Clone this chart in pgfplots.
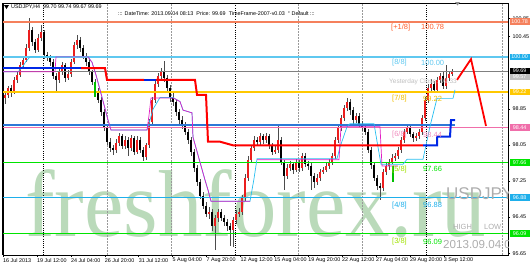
\documentclass[border=0pt]{standalone}
\usepackage{pgfplots}
\pgfplotsset{compat=1.18}
\usepackage{pgfplotstable}
\usepackage{fontspec}
\setmainfont{Liberation Sans}
\newfontfamily\wmfont{Liberation Serif}
\definecolor{mmorange}{RGB}{245,128,92}
\definecolor{mmorangetxt}{RGB}{255,95,45}
\definecolor{mmlblue}{RGB}{95,200,240}
\definecolor{mmyellow}{RGB}{255,200,0}
\definecolor{mmyellowtxt}{RGB}{240,190,0}
\definecolor{mmpink}{RGB}{240,110,170}
\definecolor{mmpinktxt}{RGB}{240,140,190}
\definecolor{mmgreen}{RGB}{0,228,0}
\definecolor{mmygreen}{RGB}{160,225,0}
\definecolor{mmblue}{RGB}{30,175,235}
\definecolor{trblue}{RGB}{45,120,215}
\definecolor{stepblue}{RGB}{0,40,230}
\definecolor{wm}{RGB}{186,218,186}
\definecolor{cyanl}{RGB}{40,190,240}
\definecolor{magl}{RGB}{225,30,195}
\definecolor{bullred}{RGB}{235,30,30}
\newcommand{\mtfont}{\fontsize{5.4}{6}\selectfont}
\newcommand{\mmfont}{\fontsize{7.5}{8}\selectfont}

\pgfplotstableread{
x o h l c
5 99.10 99.25 98.95 99.16
8 99.16 99.36 99.08 99.31
11 99.31 99.38 99.12 99.22
14 99.22 99.55 99.18 99.49
17 99.49 99.68 99.42 99.60
20 99.60 99.88 99.55 99.82
23 99.82 100.00 99.75 99.93
26 99.93 100.28 99.88 100.20
29 100.20 100.86 100.12 100.60
32 100.60 100.66 100.25 100.33
35 100.33 100.40 100.08 100.15
38 100.15 100.50 100.10 100.42
41 100.42 100.70 100.36 100.55
44 100.55 100.60 99.95 100.04
47 100.04 100.10 99.90 99.98
50 99.98 100.05 99.80 99.89
53 99.89 99.95 99.50 99.58
56 99.58 99.65 99.22 99.49
59 99.49 99.75 99.42 99.67
62 99.67 99.88 99.60 99.82
65 99.82 99.86 99.45 99.53
68 99.53 99.70 99.48 99.62
71 99.62 99.95 99.56 99.89
74 99.89 100.32 99.84 100.26
77 100.26 100.48 100.18 100.37
80 100.37 100.45 100.12 100.20
83 100.20 100.26 99.95 100.02
86 100.02 100.08 99.80 99.89
89 99.89 99.95 99.60 99.67
92 99.67 99.72 99.38 99.45
95 99.45 99.52 99.15 99.22
98 99.22 99.30 98.98 99.05
101 99.05 99.10 98.70 98.78
104 98.78 98.84 98.35 98.42
107 98.42 98.50 98.05 98.12
110 98.12 98.20 97.90 97.98
113 97.98 98.05 97.82 97.94
116 97.94 98.18 97.88 98.09
119 98.09 98.32 98.02 98.25
122 98.25 98.30 97.95 98.03
125 98.03 98.24 97.96 98.16
128 98.16 98.22 97.80 97.98
131 97.98 98.28 97.92 98.20
134 98.20 98.25 97.82 97.89
137 97.89 98.24 97.84 98.16
140 98.16 98.22 97.88 97.94
143 97.94 98.00 97.70 97.78
146 97.78 98.10 97.72 98.05
149 98.05 98.62 97.98 98.56
152 98.56 99.12 98.50 99.05
155 99.05 99.48 98.98 99.40
158 99.40 99.65 99.34 99.58
161 99.58 99.76 99.50 99.67
164 99.67 99.91 99.45 99.53
167 99.53 99.60 99.22 99.31
170 99.31 99.38 99.00 99.09
173 99.09 99.25 98.92 99.00
176 99.00 99.06 98.70 98.78
179 98.78 98.85 98.52 98.60
182 98.60 98.68 98.40 98.47
185 98.47 98.55 98.26 98.34
188 98.34 98.40 98.08 98.16
191 98.16 98.22 97.80 97.89
194 97.89 97.95 97.45 97.54
197 97.54 97.60 97.15 97.23
200 97.23 97.30 96.85 96.92
203 96.92 97.00 96.62 96.70
206 96.70 96.78 96.45 96.52
209 96.52 96.68 96.40 96.56
212 96.56 96.62 96.15 96.25
215 96.25 96.50 95.72 96.43
218 96.43 96.64 96.35 96.56
221 96.56 96.62 96.36 96.43
224 96.43 96.50 96.26 96.34
227 96.34 96.40 96.15 96.25
230 96.25 96.32 95.80 96.16
233 96.16 96.45 95.78 96.38
236 96.38 96.60 96.30 96.52
239 96.52 96.66 96.45 96.56
242 96.56 96.95 96.50 96.87
245 96.87 97.40 96.80 97.32
248 97.32 97.80 97.25 97.71
251 97.71 98.05 97.65 97.98
254 97.98 98.24 97.92 98.16
257 98.16 98.22 98.02 98.11
260 98.11 98.32 98.05 98.25
263 98.25 98.30 98.08 98.16
266 98.16 98.32 98.10 98.25
269 98.25 98.30 97.96 98.03
272 98.03 98.10 97.82 97.89
275 97.89 98.02 97.84 97.94
278 97.94 98.49 97.88 98.16
281 98.16 98.22 97.60 97.67
284 97.67 97.72 97.05 97.36
287 97.36 97.62 97.30 97.54
290 97.54 97.70 97.48 97.63
293 97.63 97.68 97.40 97.49
296 97.49 97.74 97.44 97.67
299 97.67 97.72 97.46 97.54
302 97.54 97.88 97.48 97.80
305 97.80 97.86 97.56 97.63
308 97.63 97.70 97.50 97.58
311 97.58 97.64 97.05 97.36
314 97.36 97.42 97.10 97.23
317 97.23 97.40 97.15 97.32
320 97.32 97.52 97.26 97.45
323 97.45 97.56 97.40 97.49
326 97.49 97.65 97.44 97.58
329 97.58 97.74 97.52 97.67
332 97.67 97.86 97.60 97.80
335 97.80 98.22 97.74 98.16
338 98.16 98.48 98.10 98.42
341 98.42 98.72 98.36 98.65
344 98.65 98.94 98.58 98.87
347 98.87 99.08 98.80 99.00
350 99.00 99.06 98.72 98.82
353 98.82 98.88 98.52 98.60
356 98.60 98.76 98.54 98.69
359 98.69 98.75 98.44 98.51
362 98.51 98.58 98.36 98.42
365 98.42 98.48 98.26 98.34
368 98.34 98.40 97.88 97.94
371 97.94 98.00 97.52 97.60
374 97.60 97.66 97.25 97.32
377 97.32 97.38 97.05 97.14
380 97.14 97.20 96.83 97.09
383 97.09 97.52 97.02 97.45
386 97.45 97.64 97.38 97.58
389 97.58 97.74 97.50 97.67
392 97.67 97.84 97.62 97.76
395 97.76 97.86 97.70 97.80
398 97.80 98.00 97.74 97.94
401 97.94 98.22 97.88 98.16
404 98.16 98.40 98.10 98.34
407 98.34 98.48 98.28 98.42
410 98.42 98.46 98.22 98.29
413 98.29 98.34 98.12 98.20
416 98.20 98.32 98.14 98.25
419 98.25 98.40 98.18 98.34
422 98.34 98.72 98.28 98.65
425 98.65 99.12 98.58 99.05
428 99.05 99.40 98.98 99.31
431 99.31 99.50 99.24 99.40
434 99.40 99.46 99.20 99.27
437 99.27 99.55 99.20 99.49
440 99.49 99.65 99.42 99.58
443 99.58 99.66 99.28 99.36
446 99.36 99.82 99.30 99.53
449 99.53 99.68 99.46 99.62
452 99.62 99.74 99.57 99.69
}\candles

\begin{document}
\begin{tikzpicture}[x=1pt,y=1pt]
\path[use as bounding box] (0,0) rectangle (531,266);
% watermark
\node[anchor=base west, inner sep=0, text=wm, font=\wmfont\fontsize{95}{95}\selectfont, xscale=0.935] at (25,30) {freshforex.ru};
\begin{axis}[
  at={(3pt,263pt)}, anchor=north west,
  width=505pt, height=252pt, scale only axis,
  xmin=3, xmax=508, ymin=95.609, ymax=101.194,
  clip=false,
  axis line style={black, line width=0.6pt},
  tick align=outside, major tick length=2pt,
  tick style={black, line width=0.4pt},
  xtick pos=left, ytick pos=right, yticklabel pos=right,
  ytick={95.65,96.45,97.25,98.05,98.85,100.45,100.85},
  yticklabel style={font=\mtfont, xshift=-1pt, /pgf/number format/fixed, /pgf/number format/fixed zerofill, /pgf/number format/precision=2, /pgf/number format/assume math mode=true},
  xtick={3,36.9,70.8,104.7,138.6,172.5,206.4,240.3,274.2,308.1,342,375.9,409.8,443.7},
  xticklabels={16 Jul 2013,19 Jul 12:00,24 Jul 04:00,26 Jul 20:00,31 Jul 12:00,5 Aug 04:00,7 Aug 20:00,12 Aug 12:00,15 Aug 04:00,19 Aug 20:00,22 Aug 12:00,27 Aug 04:00,29 Aug 20:00,3 Sep 12:00},
  xticklabel style={font=\mtfont, anchor=north west, inner sep=1pt, xshift=-1pt},
]
% vertical grid
\foreach \vx in {43,235,426}{
  \edef\tmp{\noexpand\draw[black, line width=0.7pt, dash pattern=on 1pt off 1.2pt] (axis cs:\vx,95.609) -- (axis cs:\vx,101.194);}\tmp
}
\foreach \vx in {107,171,298,362,502}{
  \edef\tmp{\noexpand\draw[gray!80, line width=0.5pt, dash pattern=on 1.5pt off 1.5pt] (axis cs:\vx,95.609) -- (axis cs:\vx,101.194);}\tmp
}
% candles: wicks and bodies (bear black, bull red)
\addplot[draw=none, mark=none, forget plot, error bars/.cd, y dir=both, y explicit, error mark=none,
  error bar style={draw=black!70, line width=0.55pt, solid}]
  table[x=x, y expr={(\thisrow{h}+\thisrow{l})/2}, y error expr={(\thisrow{h}-\thisrow{l})/2}] {\candles};
\addplot[draw=none, mark=none, forget plot, error bars/.cd, y dir=both, y explicit, error mark=none,
  error bar style={draw=black, line width=2.2pt, solid}]
  table[x=x, y expr={(\thisrow{o}+\thisrow{c})/2}, y error expr={(\thisrow{c}<\thisrow{o})*(\thisrow{o}-\thisrow{c})/2}] {\candles};
\addplot[draw=none, mark=none, forget plot, error bars/.cd, y dir=both, y explicit, error mark=none,
  error bar style={draw=bullred, line width=1.3pt, solid}]
  table[x=x, y expr={(\thisrow{o}+\thisrow{c})/2}, y error expr={(\thisrow{c}>\thisrow{o})*(\thisrow{c}-\thisrow{o})/2}] {\candles};
% level lines
\addplot[mmorange, line width=2pt, mark=none] coordinates {(3,100.78) (508,100.78)};
\addplot[mmlblue, line width=2.2pt, mark=none] coordinates {(3,100.00) (508,100.00)};
\addplot[gray, line width=0.6pt, mark=none] coordinates {(3,99.69) (508,99.69)};
\addplot[mmyellow, line width=1.2pt, mark=none] coordinates {(3,99.22) (508,99.22)};
\addplot[trblue, line width=2pt, mark=none] coordinates {(3,98.48) (455,98.48)};
\addplot[mmpink, line width=0.8pt, mark=none] coordinates {(3,98.44) (508,98.44)};
\addplot[mmgreen, line width=1.2pt, mark=none] coordinates {(3,97.66) (508,97.66)};
\addplot[mmblue, line width=0.8pt, mark=none] coordinates {(3,96.88) (508,96.88)};
\addplot[mmgreen, line width=1.2pt, mark=none] coordinates {(3,96.09) (508,96.09)};
% cyan and magenta channel lines
\addplot[cyanl, line width=0.7pt, mark=none] coordinates {(3,99.67) (18,99.67) (22,99.76) (26,99.90) (30,100.00) (88,100.00) (92,99.88) (96,99.60) (100,99.27) (104,98.94) (108,98.60) (111,98.38) (147,98.38) (150,98.60) (153,98.84) (160,99.10) (173,99.10) (180,99.01) (183,98.82) (192,98.76) (193,98.22) (205,97.27) (208,97.05) (211,96.80) (250,96.80) (254,97.30) (257,97.74) (337,97.74) (340,98.00) (347,98.45) (350,98.52) (374,98.52) (378,98.00) (381,97.62) (403,97.62) (407,97.73) (423,97.73) (430,98.46) (437,99.08) (453,99.08) (455,99.27)};
\addplot[magl, line width=0.7pt, mark=none] coordinates {(3,99.67) (55,99.67) (56,100.00) (88,100.00) (92,99.88) (96,99.60) (100,99.27) (104,98.94) (108,98.60) (111,98.38) (147,98.38) (149,98.70) (151,99.09) (173,99.09) (180,99.01) (183,98.82) (192,98.76) (193,98.22) (205,97.27) (208,97.05) (211,96.80) (247,96.80) (250,96.80)};
\addplot[magl, line width=0.7pt, mark=none] coordinates {(257,97.72) (339,97.72) (341,98.45) (380,98.45) (382,97.58) (398,97.58)};
% green markers
\addplot[green!75!black, line width=1.1pt, mark=none] coordinates {(95,99.45) (95,99.12)};
\addplot[green!75!black, line width=1.1pt, mark=none] coordinates {(393,97.58) (393,97.22)};
% red / blue step line
\addplot[stepblue, line width=2pt, mark=none] coordinates {(3,99.75) (81,99.75)};
\addplot[red, line width=2pt, mark=none] coordinates {(81,99.75) (105,99.75) (107,99.49) (144,99.49)};
\addplot[stepblue, line width=2pt, mark=none] coordinates {(144,99.49) (156,99.49)};
\addplot[red, line width=2pt, mark=none] coordinates {(156,99.49) (195,99.49) (197,99.16) (206,99.16) (208,98.12) (220,98.12) (233,98.04) (423,98.04)};
\addplot[stepblue, line width=2pt, mark=none] coordinates {(423,98.04) (437,98.04) (437,98.23) (450,98.23) (451,98.60) (455,98.60)};
% projection
\addplot[red, line width=1.8pt, mark=none] coordinates {(457,99.49) (471,99.95) (486,98.47)};
% Murrey labels
\node[anchor=west, inner sep=0, font=\mmfont, text=mmorangetxt] at (axis cs:391,100.66) {[+1/8]};
\node[anchor=west, inner sep=0, font=\mmfont, text=mmorangetxt] at (axis cs:421,100.66) {100.78};
\node[anchor=west, inner sep=0, font=\mmfont, text=mmlblue] at (axis cs:392,99.87) {[8/8]};
\node[anchor=west, inner sep=0, font=\mmfont, text=mmlblue] at (axis cs:421,99.87) {100.00};
\node[anchor=west, inner sep=0, font=\fontsize{6.5}{7}\selectfont, text=black!25] at (axis cs:389,99.44) {Yesterday Close: 99.33};
\node[anchor=west, inner sep=0, font=\mmfont, text=mmyellowtxt] at (axis cs:392,99.07) {[7/8]};
\node[anchor=west, inner sep=0, font=\mmfont, text=mmyellowtxt] at (axis cs:423,99.07) {99.22};
\node[anchor=west, inner sep=0, font=\mmfont, text=mmpinktxt] at (axis cs:392,98.28) {[6/8]};
\node[anchor=west, inner sep=0, font=\mmfont, text=mmpinktxt] at (axis cs:423,98.28) {98.44};
\node[anchor=west, inner sep=0, font=\mmfont, text=mmygreen] at (axis cs:392,97.51) {[5/8]};
\node[anchor=west, inner sep=0, font=\mmfont, text=mmgreen] at (axis cs:423,97.51) {97.66};
\node[anchor=west, inner sep=0, font=\mmfont, text=mmblue] at (axis cs:392,96.71) {[4/8]};
\node[anchor=west, inner sep=0, font=\mmfont, text=mmblue] at (axis cs:423,96.71) {96.88};
\node[anchor=west, inner sep=0, font=\mmfont, text=mmygreen] at (axis cs:392,95.90) {[3/8]};
\node[anchor=west, inner sep=0, font=\mmfont, text=mmgreen] at (axis cs:423,95.90) {96.09};
% right price boxes
\tikzset{pbox/.style={anchor=west, inner sep=0.6pt, minimum width=20pt, minimum height=6.5pt, font=\mtfont, text=white}}
\node[pbox, fill=mmorange] at (axis cs:509.5,100.78) {100.78};
\node[pbox, fill=mmblue] at (axis cs:509.5,100.00) {100.00};
\node[pbox, fill=black!25] at (axis cs:509.5,99.57) {99.57};
\node[pbox, fill=black] at (axis cs:509.5,99.69) {99.69};
\node[pbox, fill=mmyellow] at (axis cs:509.5,99.22) {99.22};
\node[pbox, fill=mmpink] at (axis cs:509.5,98.44) {98.44};
\node[pbox, fill=mmgreen] at (axis cs:509.5,97.66) {97.66};
\node[pbox, fill=mmblue] at (axis cs:509.5,96.88) {96.88};
\node[pbox, fill=mmgreen] at (axis cs:509.5,96.09) {96.09};
\end{axis}
% thicker left border
\draw[black, line width=1.4pt] (2.6,11) -- (2.6,263);
% header texts
\fill[black] (4,261) -- (9,261) -- (6.5,257) -- cycle;
\node[anchor=west, inner sep=0, font=\mtfont] at (11,259) {USDJPY,H4 \ 99.70 99.74 99.67 99.69};
\node[anchor=west, inner sep=0, font=\mtfont] at (118,252) {::: DateTime: 2013.09.04 08:13 \ Price: 99.69 \ TimeFrame-2007-v0.03 \ \textdegree\ Default :::};
\fill[black!45] (455,264) -- (460,264) -- (457.5,260.5) -- cycle;
% clipped right-side texts
\begin{scope}
\clip (3,11) rectangle (508,263);
\node[anchor=base west, inner sep=0, font=\fontsize{17}{17}\selectfont, text=black!32] at (446,67) {USDJPY};
\node[anchor=base west, inner sep=0, font=\fontsize{7.5}{8}\selectfont, text=black!32] at (453,37) {HIGH};
\node[anchor=base west, inner sep=0, font=\fontsize{7.5}{8}\selectfont, text=black!32] at (484,37) {LOW};
\node[anchor=base west, inner sep=0, font=\fontsize{11.6}{12}\selectfont, text=black!32] at (443,18) {2013.09.04 08:13};
\end{scope}
\end{tikzpicture}
\end{document}
